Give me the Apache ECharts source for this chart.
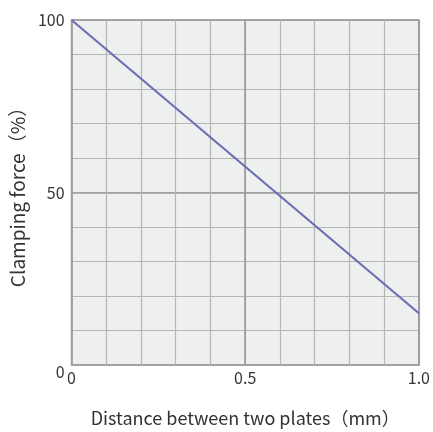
<!DOCTYPE html>
<html><head><meta charset="utf-8">
<script src="https://cdn.jsdelivr.net/npm/echarts@6/dist/echarts.min.js"></script>
<style>html,body{margin:0;padding:0;background:#fff;}#c{width:433px;height:432px;}</style>
</head><body><div id="c"></div>
<script>
const distance = [0, 1.0];
const clampingForce = [100, 15];
const xTicks = [0, 0.5, 1.0];
const yTicks = [0, 50, 100];
const xTitle = 'Distance between two plates（mm）';
const yTitle = 'Clamping force（%）';

const chart = echarts.init(document.getElementById('c'));
const font = '"Noto Sans CJK JP", "Noto Sans", sans-serif';
const minor = '#b5b5b5', major = '#9c9c9c';
chart.setOption({
  animation: false,
  grid: { left: 70, top: 20, right: 11, bottom: 63, show: true, backgroundColor: '#eeefef', borderColor: major, borderWidth: 1.5 },
  xAxis: [
    { type: 'value', min: 0, max: 1, interval: 0.1,
      axisLine: { show: false }, axisTick: { show: false },
      splitLine: { show: true, lineStyle: { color: minor, width: 1.2 } },
      axisLabel: { color: '#333', fontSize: 16, fontFamily: font, margin: 5,
        formatter: v => { const r = Math.round(v * 10) / 10; return xTicks.includes(r) ? (r === 0 ? '0' : r.toFixed(1)) : ''; } },
      name: xTitle, nameLocation: 'middle', nameGap: 44,
      nameTextStyle: { color: '#333', fontSize: 18, fontFamily: font }
    },
    { type: 'value', min: 0, max: 1, interval: 0.5, position: 'bottom',
      axisLine: { show: false }, axisTick: { show: false }, axisLabel: { show: false },
      splitLine: { show: true, lineStyle: { color: major, width: 1.6 } } }
  ],
  yAxis: [
    { type: 'value', min: 0, max: 100, interval: 10,
      axisLine: { show: false }, axisTick: { show: false },
      splitLine: { show: true, lineStyle: { color: minor, width: 1.2 } },
      axisLabel: { color: '#333', fontSize: 16, fontFamily: font, margin: 7,
        formatter: v => { const r = Math.round(v); return (r !== 0 && yTicks.includes(r)) ? String(r) : ''; } },
      name: yTitle, nameLocation: 'middle', nameGap: 44, nameRotate: 90,
      nameTextStyle: { color: '#333', fontSize: 19, fontFamily: font }
    },
    { type: 'value', min: 0, max: 100, interval: 50, position: 'left',
      axisLine: { show: false }, axisTick: { show: false },
      axisLabel: { show: true, color: '#333', fontSize: 16, fontFamily: font, margin: 7,
        verticalAlign: 'top', lineHeight: 14,
        formatter: v => Math.round(v) === 0 ? '0' : '' },
      splitLine: { show: true, lineStyle: { color: major, width: 1.6 } } }
  ],
  series: [{
    type: 'line', xAxisIndex: 0, yAxisIndex: 0, symbol: 'none',
    data: distance.map((d, i) => [d, clampingForce[i]]),
    lineStyle: { color: '#6a70b6', width: 2.2 }, z: 5
  }]
});
</script></body></html>
